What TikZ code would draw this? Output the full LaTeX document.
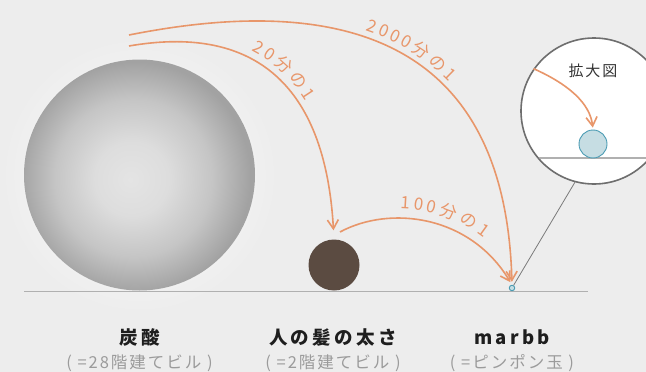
\documentclass[tikz,border=0pt]{standalone}
\usepackage{fontspec}
\setmainfont{Noto Sans CJK JP}
\newfontfamily\jpf{Noto Sans CJK JP}
\newfontfamily\jptitle[LetterSpace=18]{Noto Sans CJK JP}
\newfontfamily\jpsub[LetterSpace=12]{Noto Sans CJK JP}
\usetikzlibrary{arrows.meta,decorations.text}
\definecolor{bg}{HTML}{EDEDED}
\definecolor{halocol}{HTML}{F0F0F0}
\definecolor{arccol}{HTML}{E8966A}
\definecolor{haircol}{HTML}{5B4B41}
\definecolor{marbleline}{HTML}{4A9BB3}
\definecolor{marblefill}{HTML}{C6DDE3}
\definecolor{groundcol}{HTML}{B0B0B0}
\definecolor{zoomline}{HTML}{6E6E6E}
\definecolor{leadercol}{HTML}{7A7A7A}
\definecolor{titlecol}{HTML}{1E1E1E}
\definecolor{subcol}{HTML}{9B9B9B}
\definecolor{zoomtext}{HTML}{333333}
\definecolor{sphA}{HTML}{E4E4E4}
\definecolor{sphB}{HTML}{DDDDDD}
\definecolor{sphC}{HTML}{C5C5C5}
\definecolor{sphD}{HTML}{A2A2A2}
\pgfdeclareradialshading{spheresh}{\pgfpoint{-2bp}{-1bp}}{color(0bp)=(sphA); color(8bp)=(sphB); color(17bp)=(sphC); color(25bp)=(sphD); color(50bp)=(sphD)}
\pgfdeclareradialshading{halosh}{\pgfpointorigin}{color(0bp)=(halocol); color(20.5bp)=(halocol); color(25bp)=(bg); color(50bp)=(bg)}
\newcommand\arcfont{\jpf\fontsize{17pt}{17pt}\selectfont\color{arccol}}
\tikzset{
  curvearrow/.style={draw=arccol, line width=1.6pt, -{Straight Barb[length=9pt,width=11pt]}},
  groundline/.style={draw=groundcol, line width=1.3pt},
  spherenode/.style={circle, minimum size=231pt, inner sep=0pt, shading=spheresh},
  hairnode/.style={circle, minimum size=51pt, inner sep=0pt, fill=haircol},
  marblenode/.style={circle, minimum size=5.5pt, inner sep=0pt, draw=marbleline, fill=marblefill, line width=0.9pt},
  bigmarble/.style={circle, minimum size=28pt, inner sep=0pt, draw=marbleline, fill=marblefill, line width=0.9pt},
  zoomnode/.style={circle, minimum size=146pt, inner sep=0pt, fill=white, draw=zoomline, line width=1.6pt},
  leader/.style={draw=leadercol, line width=0.8pt},
  title/.style={anchor=base, inner sep=0pt, text=titlecol, font=\jptitle\bfseries\fontsize{18.5pt}{22pt}\selectfont},
  subtitle/.style={anchor=base, inner sep=0pt, text=subcol, font=\jpsub\fontsize{16.5pt}{18pt}\selectfont},
  zoomlabel/.style={inner sep=0pt, text=zoomtext, font=\jpsub\fontsize{15pt}{17pt}\selectfont},
}
\begin{document}
\begin{tikzpicture}[x=1pt,y=-1pt]
\useasboundingbox (0,0) rectangle (646,372);
\fill[bg] (0,0) rectangle (646,372);
\shade[shading=halosh] (139.5,175) circle[radius=138pt];
\coordinate (gl) at (24,291.5);
\coordinate (gr) at (588,291.5);
\draw[groundline] (gl) -- (gr);
\node[spherenode, shade] (co2) at (139.5,175) {};
\node[hairnode] (hair) at (334,265) {};
\node[marblenode] (marble) at (512,288) {};
% zoom circle
\node[zoomnode] (zoom) at (594,111) {};
\begin{scope}
  \clip (zoom.center) circle[radius=72pt];
  \coordinate (zgl) at (520,158);
  \coordinate (zgr) at (680,158);
  \draw[groundline] (zgl) -- (zgr);
\end{scope}
\node[bigmarble] (zball) at (593,144) {};
\node[zoomlabel] (zlabel) at (593,71) {拡大図};
\draw[curvearrow, shorten >=2pt] (zoom.145) .. controls (568,84) and (590,103) .. (zball.north);
\draw[leader] (zoom.255) -- (marble);
% arcs
\coordinate (s2000) at (129,35);
\coordinate (s20) at (129,46);
\coordinate (s100) at (340,232);
\draw[curvearrow, shorten >=3pt] (s2000) .. controls (330,-5) and (505,30) .. (marble.north);
\draw[curvearrow, shorten >=9pt] (s20) .. controls (250,25) and (325,80) .. (hair.north);
\draw[curvearrow, shorten >=3pt] (s100) .. controls (390,205) and (470,215) .. (marble.north);
% arc labels
\path[decorate, decoration={text along path, text={|\arcfont|2{\kern2.5pt}0{\kern2.5pt}0{\kern2.5pt}0{\kern2.5pt}分{\kern2.5pt}の{\kern2.5pt}1},
  text align={left indent=237pt}, raise=7pt}]
  (s2000) .. controls (330,-5) and (505,30) .. (marble.north);
\path[decorate, decoration={text along path, text={|\arcfont|2{\kern2.5pt}0{\kern2.5pt}分{\kern2.5pt}の{\kern2.5pt}1},
  text align={left indent=121pt}, raise=8pt}]
  (s20) .. controls (250,25) and (325,80) .. (hair.north);
\path[decorate, decoration={text along path, text={|\arcfont|1{\kern2.5pt}0{\kern2.5pt}0{\kern2.5pt}分{\kern2.5pt}の{\kern2.5pt}1},
  text align={left indent=62pt}, raise=10pt}]
  (s100) .. controls (390,205) and (470,215) .. (marble.north);
% labels
\node[title] (t1) at (139.5,344.5) {炭酸};
\node[title] (t2) at (333,344.5) {人の髪の太さ};
\node[title] (t3) at (512,344.5) {marbb};
\node[subtitle] (u1) at (139.5,368.5) {( =28階建てビル )};
\node[subtitle] (u2) at (333,368.5) {( =2階建てビル )};
\node[subtitle] (u3) at (512,368.5) {( =ピンポン玉 )};
\end{tikzpicture}
\end{document}
